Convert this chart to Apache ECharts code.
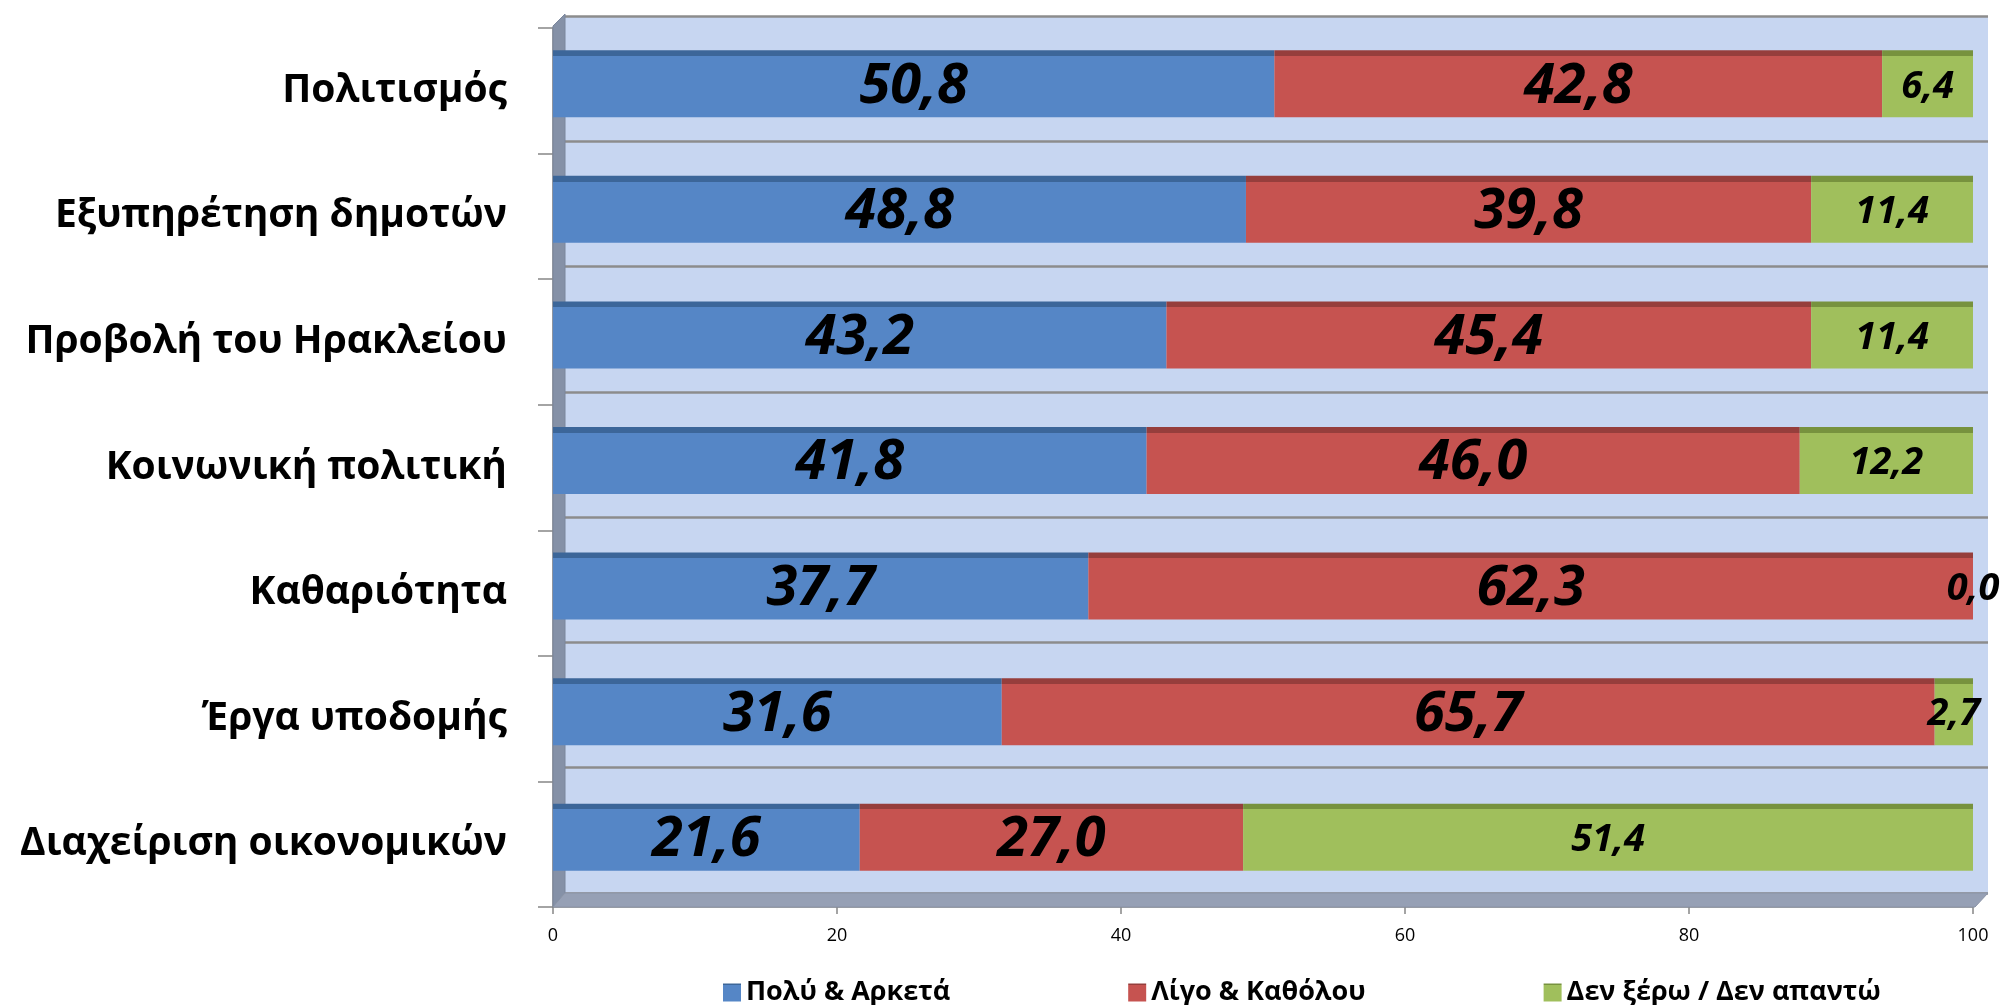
<!DOCTYPE html>
<html><head><meta charset="utf-8">
<script src="https://cdn.jsdelivr.net/npm/echarts@6/dist/echarts.min.js"></script>
<style>html,body{margin:0;padding:0;background:#fff}#c{width:2010px;height:1005px}</style>
</head><body><div id="c"></div>
<script>
const categories = ['Πολιτισμός','Εξυπηρέτηση δημοτών','Προβολή του Ηρακλείου','Κοινωνική πολιτική','Καθαριότητα','Έργα υποδομής','Διαχείριση οικονομικών'];
const seriesNames = ['Πολύ & Αρκετά','Λίγο & Καθόλου','Δεν ξέρω / Δεν απαντώ'];
const poluArketa = [50.8, 48.8, 43.2, 41.8, 37.7, 31.6, 21.6];
const ligoKatholou = [42.8, 39.8, 45.4, 46.0, 62.3, 65.7, 27.0];
const denXero = [6.4, 11.4, 11.4, 12.2, 0.0, 2.7, 51.4];
const xTicks = [0, 20, 40, 60, 80, 100];

const FONT = 'Open Sans';
const front = ['#5586c6', '#c65350', '#a0bf5c'];
const topc = ['#3c6699', '#963e3c', '#77923e'];
function grad(i){
  return new echarts.graphic.LinearGradient(0,0,0,1,[
    {offset:0,color:topc[i]},{offset:0.085,color:topc[i]},
    {offset:0.085,color:front[i]},{offset:1,color:front[i]}]);
}
const fmt = p => Number(p.value).toFixed(1).replace('.', ',');

const chart = echarts.init(document.getElementById('c'));
const xMin = xTicks[0], xMax = xTicks[xTicks.length-1], xInt = xTicks[1]-xTicks[0];

function mkSeries(name, data, i, size){
  return {
    name, type:'bar', stack:'s', xAxisIndex:1, yAxisIndex:1,
    data, barWidth:67,
    itemStyle:{color:grad(i)},
    label:{show:true, position:'inside', formatter:fmt, color:'#000',
      fontFamily:FONT, fontWeight:'bold', fontStyle:'italic', fontSize:size, offset:[0,3]},
    emphasis:{disabled:true}
  };
}

chart.setOption({
  animation:false,
  color: front,
  graphic:[
    {type:'polygon', z:1, shape:{points:[[553,26],[565,14],[565,893],[553,907]]}, style:{fill:'#8591a7', stroke:'#7a869c', lineWidth:1}},
    {type:'polygon', z:1, shape:{points:[[553,907],[565,893],[1988,893],[1975,907]]}, style:{fill:'#96a0b5', stroke:'#8a93a6', lineWidth:1}}
  ],
  grid:[
    {left:565, top:16, width:1423, height:877, show:true, backgroundColor:'#c7d6f1', borderWidth:0},
    {left:553, top:21, width:1420, height:879},
    {left:553, top:28, width:1420, height:879}
  ],
  xAxis:[
    {gridIndex:0, type:'value', min:xMin, max:xMax, interval:xInt, show:false},
    {gridIndex:1, type:'value', min:xMin, max:xMax, interval:xInt, show:false},
    {gridIndex:2, type:'value', min:xMin, max:xMax, interval:xInt,
      axisLine:{show:true, lineStyle:{color:'#868686', width:1.5}},
      axisTick:{show:true, length:7, lineStyle:{color:'#868686', width:1.5}},
      splitLine:{show:false},
      axisLabel:{color:'#000', fontFamily:FONT, fontSize:18, margin:20}}
  ],
  yAxis:[
    {gridIndex:0, type:'category', data:categories, inverse:true,
      axisLine:{show:false}, axisTick:{show:false}, axisLabel:{show:false},
      splitLine:{show:true, lineStyle:{color:'#8c8c8c', width:2.5}}},
    {gridIndex:1, type:'category', data:categories, inverse:true, show:false},
    {gridIndex:2, type:'category', data:categories, inverse:true,
      axisLine:{show:true, lineStyle:{color:'#868686', width:1.5}},
      axisTick:{show:true, length:15, lineStyle:{color:'#868686', width:1.5}},
      splitLine:{show:false},
      axisLabel:{color:'#000', fontFamily:FONT, fontWeight:'bold', fontSize:39, margin:46}}
  ],
  legend:{
    data:seriesNames, left:718, top:974, itemWidth:18, itemHeight:18, itemGap:178,
    icon:'rect',
    textStyle:{color:'#000', fontFamily:FONT, fontWeight:'bold', fontSize:27}
  },
  series:[
    mkSeries(seriesNames[0], poluArketa, 0, 56),
    mkSeries(seriesNames[1], ligoKatholou, 1, 56),
    mkSeries(seriesNames[2], denXero, 2, 38)
  ]
});
</script></body></html>
